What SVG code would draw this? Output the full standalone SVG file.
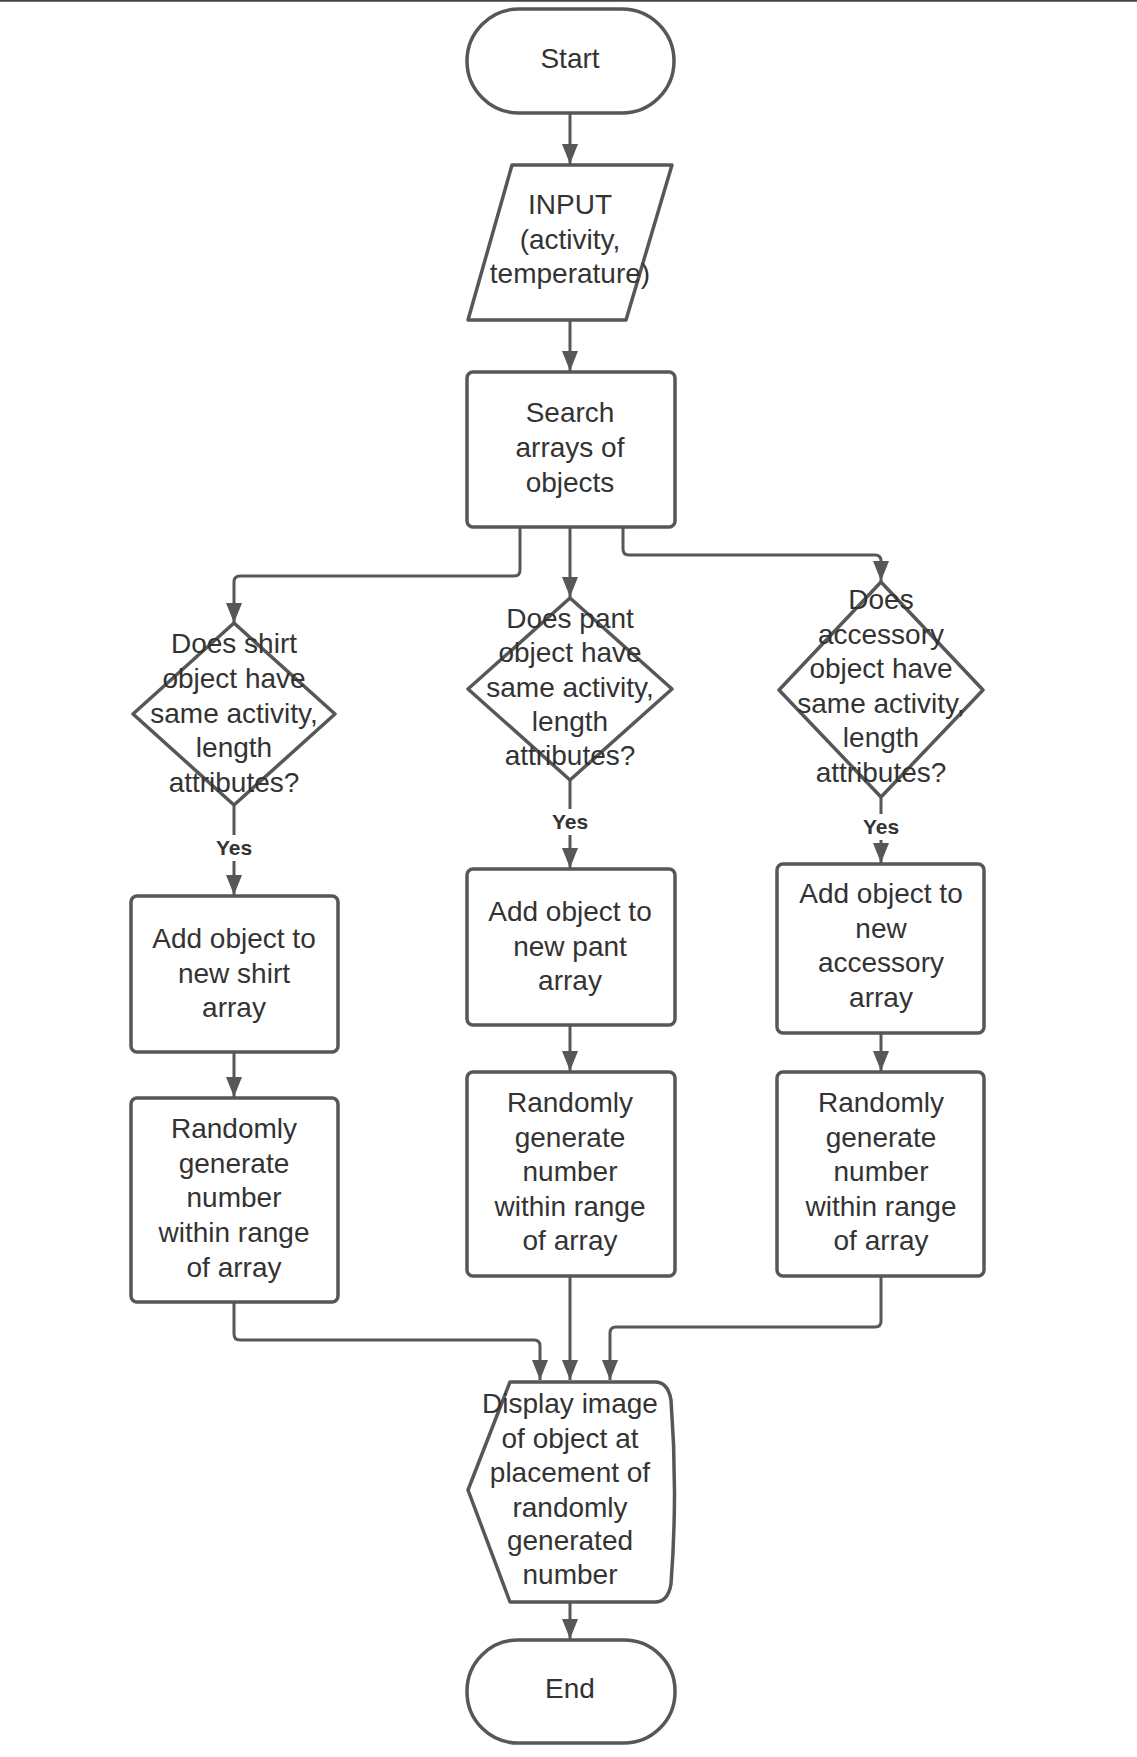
<svg xmlns="http://www.w3.org/2000/svg" width="1137" height="1757" viewBox="0 0 1137 1757">
  <style>
    .shape { fill: #ffffff; stroke: #575757; stroke-width: 3.5; stroke-linejoin: round; }
    .label { font-family: "Liberation Sans", Arial, sans-serif; font-size: 28px; fill: #333333; text-anchor: middle; }
    .yes { font-family: "Liberation Sans", Arial, sans-serif; font-size: 21px; font-weight: bold; fill: #333333; text-anchor: middle; }
    .edge { fill: none; stroke: #575757; stroke-width: 3; marker-end: url(#arrow); }
  </style>
  <defs>
    <marker id="arrow" markerWidth="20" markerHeight="16" refX="20" refY="8" orient="auto" markerUnits="userSpaceOnUse">
      <path d="M0,0 L20,8 L0,16 Z" fill="#575757"/>
    </marker>
  </defs>

  <rect x="0" y="0" width="1137" height="1757" fill="#ffffff"/>
  <line x1="0" y1="0.8" x2="1137" y2="0.8" stroke="#444444" stroke-width="2"/>

  <!-- connectors -->
  <g id="connectors">
    <path class="edge" d="M570,113 V164"/>
    <path class="edge" d="M570,320 V371"/>
    <path class="edge" d="M520,527 V570 Q520,576 514,576 H240 Q234,576 234,582 V623"/>
    <path class="edge" d="M570,527 V597"/>
    <path class="edge" d="M623,527 V549 Q623,555 629,555 H875 Q881,555 881,561 V581"/>
    <path class="edge" d="M234,805 V835 M234,861 V895"/>
    <path class="edge" d="M570,780 V809 M570,835 V868"/>
    <path class="edge" d="M881,797 V814 M881,840 V863"/>
    <path class="edge" d="M234,1052 V1097"/>
    <path class="edge" d="M570,1025 V1071"/>
    <path class="edge" d="M881,1033 V1071"/>
    <path class="edge" d="M234,1302 V1334 Q234,1340 240,1340 H534 Q540,1340 540,1346 V1380"/>
    <path class="edge" d="M570,1276 V1380"/>
    <path class="edge" d="M881,1276 V1321 Q881,1327 875,1327 H616 Q610,1327 610,1333 V1380"/>
    <path class="edge" d="M570,1602 V1639"/>
    <text class="yes" x="234" y="855">Yes</text>
    <text class="yes" x="570" y="829">Yes</text>
    <text class="yes" x="881" y="834">Yes</text>
  </g>

  <g id="start">
    <rect class="shape" x="467" y="9" width="207" height="104" rx="52" ry="52"/>
    <text class="label" x="570" y="68">Start</text>
  </g>

  <g id="input">
    <path class="shape" d="M512,165 H672 L626,320 H468 Z"/>
    <text class="label" x="570" y="214">INPUT</text>
    <text class="label" x="570" y="249">(activity,</text>
    <text class="label" x="570" y="283">temperature)</text>
  </g>

  <g id="search">
    <rect class="shape" x="467" y="372" width="208" height="155" rx="6"/>
    <text class="label" x="570" y="422">Search</text>
    <text class="label" x="570" y="457">arrays of</text>
    <text class="label" x="570" y="492">objects</text>
  </g>

  <g id="shirt-check">
    <path class="shape" d="M234,623 L335,714 L234,805 L133,714 Z"/>
    <text class="label" x="234" y="653">Does shirt</text>
    <text class="label" x="234" y="688">object have</text>
    <text class="label" x="234" y="723">same activity,</text>
    <text class="label" x="234" y="757">length</text>
    <text class="label" x="234" y="792">attributes?</text>
  </g>

  <g id="pant-check">
    <path class="shape" d="M570,598 L672,689 L570,780 L468,689 Z"/>
    <text class="label" x="570" y="628">Does pant</text>
    <text class="label" x="570" y="662">object have</text>
    <text class="label" x="570" y="697">same activity,</text>
    <text class="label" x="570" y="731">length</text>
    <text class="label" x="570" y="765">attributes?</text>
  </g>

  <g id="accessory-check">
    <path class="shape" d="M881,582 L983,690 L881,797 L779,690 Z"/>
    <text class="label" x="881" y="609">Does</text>
    <text class="label" x="881" y="644">accessory</text>
    <text class="label" x="881" y="678">object have</text>
    <text class="label" x="881" y="713">same activity,</text>
    <text class="label" x="881" y="747">length</text>
    <text class="label" x="881" y="782">attributes?</text>
  </g>

  <g id="shirt-add">
    <rect class="shape" x="131" y="896" width="207" height="156" rx="6"/>
    <text class="label" x="234" y="948">Add object to</text>
    <text class="label" x="234" y="983">new shirt</text>
    <text class="label" x="234" y="1017">array</text>
  </g>

  <g id="pant-add">
    <rect class="shape" x="467" y="869" width="208" height="156" rx="6"/>
    <text class="label" x="570" y="921">Add object to</text>
    <text class="label" x="570" y="956">new pant</text>
    <text class="label" x="570" y="990">array</text>
  </g>

  <g id="accessory-add">
    <rect class="shape" x="777" y="864" width="207" height="169" rx="6"/>
    <text class="label" x="881" y="903">Add object to</text>
    <text class="label" x="881" y="938">new</text>
    <text class="label" x="881" y="972">accessory</text>
    <text class="label" x="881" y="1007">array</text>
  </g>

  <g id="shirt-random">
    <rect class="shape" x="131" y="1098" width="207" height="204" rx="6"/>
    <text class="label" x="234" y="1138">Randomly</text>
    <text class="label" x="234" y="1173">generate</text>
    <text class="label" x="234" y="1207">number</text>
    <text class="label" x="234" y="1242">within range</text>
    <text class="label" x="234" y="1277">of array</text>
  </g>

  <g id="pant-random">
    <rect class="shape" x="467" y="1072" width="208" height="204" rx="6"/>
    <text class="label" x="570" y="1112">Randomly</text>
    <text class="label" x="570" y="1147">generate</text>
    <text class="label" x="570" y="1181">number</text>
    <text class="label" x="570" y="1216">within range</text>
    <text class="label" x="570" y="1250">of array</text>
  </g>

  <g id="accessory-random">
    <rect class="shape" x="777" y="1072" width="207" height="204" rx="6"/>
    <text class="label" x="881" y="1112">Randomly</text>
    <text class="label" x="881" y="1147">generate</text>
    <text class="label" x="881" y="1181">number</text>
    <text class="label" x="881" y="1216">within range</text>
    <text class="label" x="881" y="1250">of array</text>
  </g>

  <g id="display">
    <path class="shape" d="M510,1382 H655 Q668,1382 671,1400 Q678,1492 671,1584 Q668,1602 655,1602 H510 L468,1490 Z"/>
    <text class="label" x="570" y="1413">Display image</text>
    <text class="label" x="570" y="1448">of object at</text>
    <text class="label" x="570" y="1482">placement of</text>
    <text class="label" x="570" y="1517">randomly</text>
    <text class="label" x="570" y="1550">generated</text>
    <text class="label" x="570" y="1584">number</text>
  </g>

  <g id="end">
    <rect class="shape" x="467" y="1640" width="208" height="103" rx="51" ry="51"/>
    <text class="label" x="570" y="1698">End</text>
  </g>
</svg>
